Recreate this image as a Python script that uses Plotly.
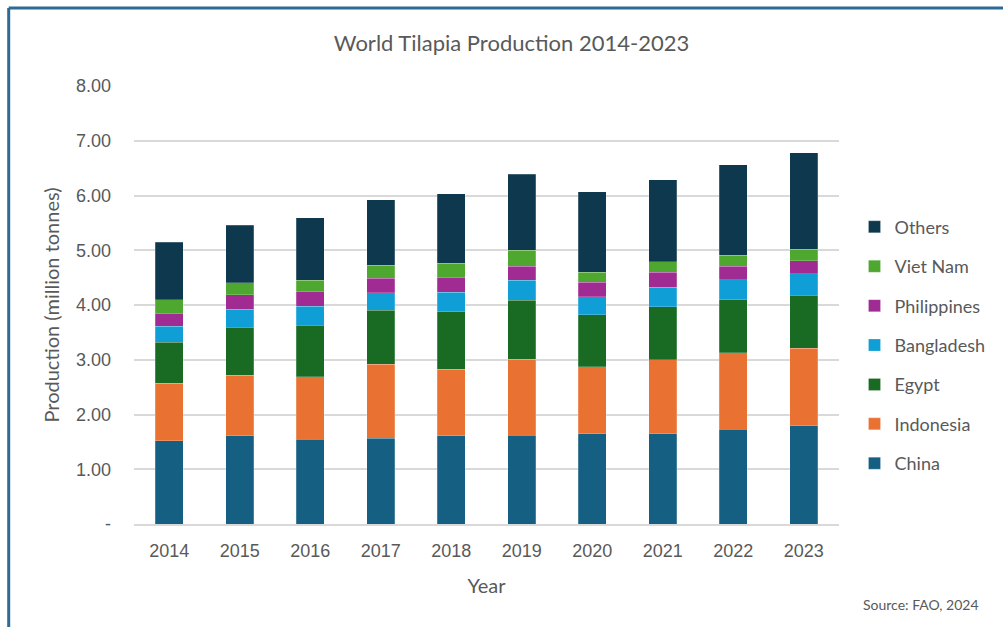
import plotly.graph_objects as go

years = ["2014", "2015", "2016", "2017", "2018", "2019", "2020", "2021", "2022", "2023"]
china = [1.52, 1.61, 1.55, 1.565, 1.61, 1.625, 1.65, 1.65, 1.73, 1.795]
indonesia = [1.05, 1.11, 1.14, 1.35, 1.22, 1.385, 1.225, 1.35, 1.40, 1.415]
egypt = [0.75, 0.87, 0.94, 0.985, 1.05, 1.075, 0.95, 0.97, 0.97, 0.97]
bangladesh = [0.29, 0.335, 0.35, 0.325, 0.35, 0.365, 0.33, 0.35, 0.36, 0.39]
philippines = [0.24, 0.26, 0.26, 0.265, 0.275, 0.26, 0.26, 0.28, 0.25, 0.24]
viet_nam = [0.25, 0.22, 0.215, 0.24, 0.255, 0.29, 0.18, 0.19, 0.20, 0.21]
others = [1.045, 1.055, 1.14, 1.19, 1.27, 1.39, 1.47, 1.50, 1.65, 1.76]

series = [
    ("China", china, "#156082"),
    ("Indonesia", indonesia, "#E97132"),
    ("Egypt", egypt, "#196B24"),
    ("Bangladesh", bangladesh, "#0F9ED5"),
    ("Philippines", philippines, "#A02B93"),
    ("Viet Nam", viet_nam, "#4EA72E"),
    ("Others", others, "#0E384D"),
]

ytick_vals = [0, 1, 2, 3, 4, 5, 6, 7, 8]
ytick_text = ["-", "1.00", "2.00", "3.00", "4.00", "5.00", "6.00", "7.00", "8.00"]

fig = go.Figure()
n = len(series)
for i, (name, vals, col) in enumerate(series):
    fig.add_trace(go.Bar(
        x=years, y=vals, name=name, legendgroup=name, legendrank=(n - i) * 10,
        marker=dict(color=col, line=dict(color="rgba(255,255,255,0.35)", width=0.6)),
    ))

grey = "#595959"
fig.update_layout(
    barmode="stack",
    bargap=0.6,
    width=1003, height=627,
    margin=dict(l=134, r=160, t=86, b=103),
    paper_bgcolor="white", plot_bgcolor="white",
    font=dict(family="Liberation Sans, Arial", color=grey, size=18),
    title=dict(text="World Tilapia Production 2014-2023", x=0.51, xanchor="center",
               y=0.931, yanchor="middle",
               font=dict(family="Lato, Open Sans", size=22, color=grey)),
    xaxis=dict(showgrid=False, showline=True, linecolor="#d9d9d9", linewidth=1.5,
               ticks="", ticklabelstandoff=10, tickfont=dict(size=18, color=grey),
               title=dict(text="Year", font=dict(family="Lato", size=20, color=grey), standoff=19)),
    yaxis=dict(range=[0, 8], tickvals=ytick_vals, ticktext=ytick_text,
               showgrid=True, gridcolor="#d9d9d9", gridwidth=1.5, zeroline=False,
               ticks="", ticklabelstandoff=22, tickfont=dict(size=18, color=grey),
               title=dict(text="Production (million tonnes)",
                          font=dict(family="Lato", size=20, color=grey), standoff=10)),
    legend=dict(traceorder="grouped", tracegroupgap=13,
                x=1.022, xanchor="left", y=0.72, yanchor="top",
                font=dict(family="Lato", size=18, color=grey),
                itemwidth=30, bgcolor="rgba(0,0,0,0)"),
    annotations=[dict(text="Source: FAO, 2024", xref="paper", yref="paper",
                      x=(986 - 134) / 709, y=(524 - 604) / 438, xanchor="right", yanchor="middle",
                      showarrow=False, font=dict(family="Lato", size=14, color=grey))],
    shapes=[
        dict(type="line", xref="paper", yref="paper",
             x0=(8 - 134) / 709, x1=(1010 - 134) / 709,
             y0=(524 - 8) / 438, y1=(524 - 8) / 438,
             line=dict(color="#2E6A93", width=3)),
        dict(type="line", xref="paper", yref="paper",
             x0=(8 - 134) / 709, x1=(8 - 134) / 709,
             y0=(524 - 8) / 438, y1=(524 - 640) / 438,
             line=dict(color="#2E6A93", width=3)),
    ],
)

fig.write_html("out.html")
